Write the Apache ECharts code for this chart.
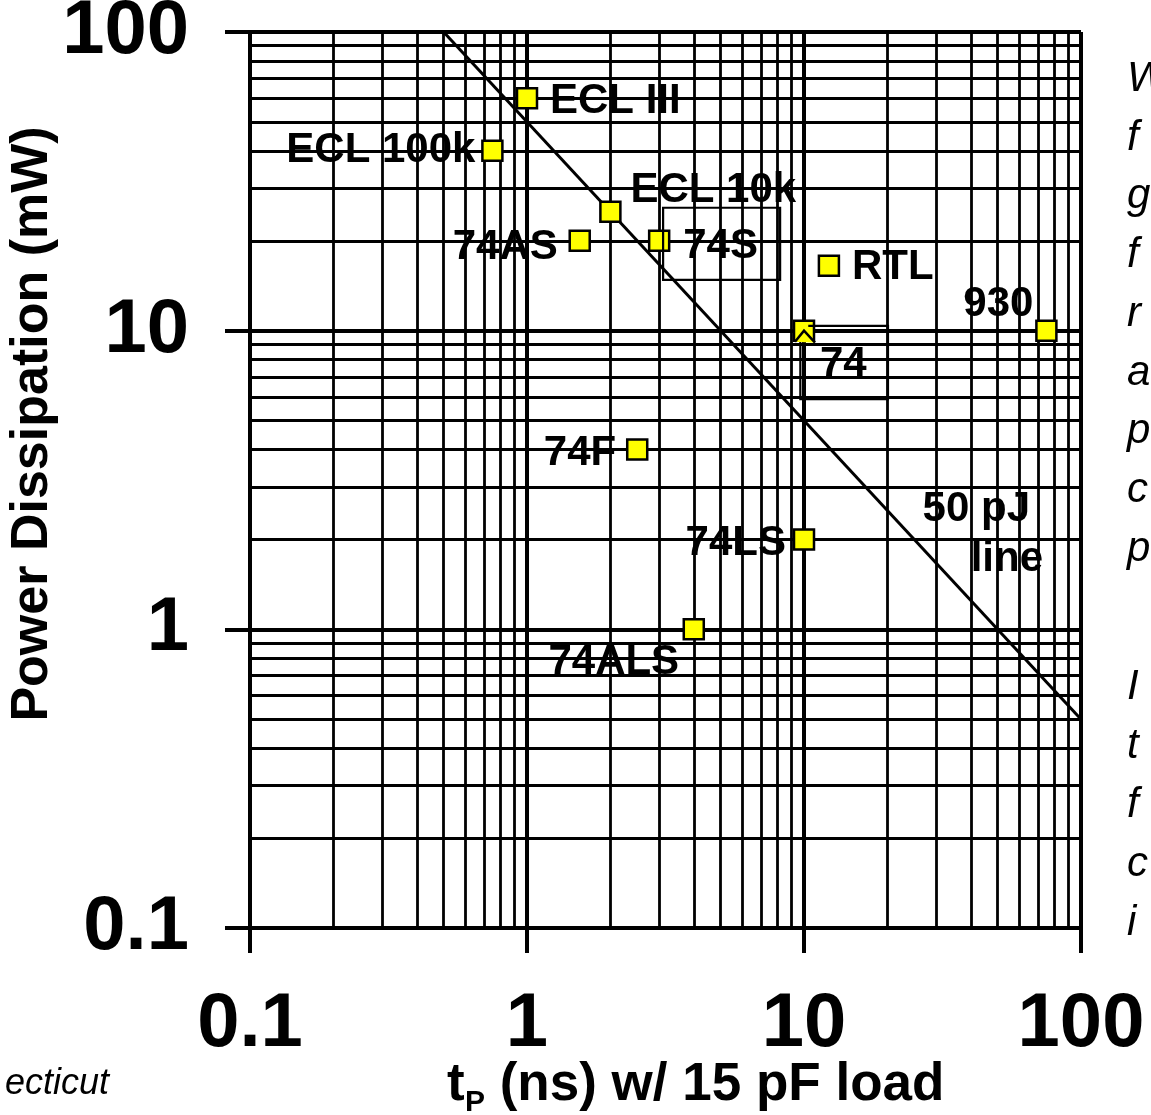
<!DOCTYPE html>
<html>
<head>
<meta charset="utf-8">
<script src="https://cdn.jsdelivr.net/npm/echarts@6/dist/echarts.min.js"></script>
<style>
html,body{margin:0;padding:0;background:#fff;}
#c{width:1151px;height:1115px;}
</style>
</head>
<body>
<div id="c"></div>
<script>
// ---- data ----
const families = ['ECL III', 'ECL 100k', 'ECL 10k', '74AS', '74S', 'RTL', '930', '74', '74F', '74LS', '74ALS'];
const delayNs  = [1, 0.75, 2, 1.55, 3, 12.3, 75, 10, 2.5, 10, 4];
const powerMw  = [60, 40, 25, 20, 20, 16.5, 10, 10, 4, 2, 1];
const pjLineDelay = [0.5, 100];
const pjLinePower = [100, 0.5];
const tickLabels = ['0.1', '1', '10', '100'];
const minorX = [0.2,0.3,0.4,0.5,0.6,0.7,0.8,0.9, 2,3,4,5,6,7,8,9, 20,30,40,50,60,70,80,90];
const minorY = [0.2,0.3,0.4,0.5,0.6,0.7,0.8,0.9, 2,3,4,5,6,7,8,9, 20,30,40,50,60,70,80,90];
// annotation boxes in data units
const box74S = {delay: [3.1, 8.2], power: [25.8, 14.8]};
const box74  = {delay: [9.7, 10.36, 20.1], power: [10.37, 5.9]};

// ---- styles ----
const FF = '"Liberation Sans", Arial, Helvetica, sans-serif';
const labelStyle = {
  'ECL III':  {align: 'left',   offset: [23, 3]},
  'ECL 100k': {align: 'right',  offset: [-17, 0]},
  'ECL 10k':  {align: 'left',   offset: [20, -21]},
  '74AS':     {align: 'right',  offset: [-22, 7]},
  '74S':      {align: 'left',   offset: [24, 6]},
  'RTL':      {align: 'left',   offset: [23, 2]},
  '930':      {align: 'right',  offset: [-13, -26]},
  '74':       {align: 'left',   offset: [16, 34]},
  '74F':      {align: 'right',  offset: [-21, 4]},
  '74LS':     {align: 'right',  offset: [-18, 4]},
  '74ALS':    {align: 'center', offset: [-80, 33]}
};

const tickFmt = v => tickLabels[Math.round(Math.log10(v)) + 1];

const axisCommon = {
  type: 'log', logBase: 10, min: 0.1, max: 100,
  axisLine: {show: true, onZero: false, lineStyle: {color: '#000', width: 4}},
  axisTick: {show: true, inside: false, length: 25, lineStyle: {color: '#000', width: 4}},
  splitLine: {show: true, lineStyle: {color: '#000', width: 4}},
  minorTick: {show: false},
  minorSplitLine: {show: false}
};

const chart = echarts.init(document.getElementById('c'), null, {renderer: 'canvas'});

const option = {
  animation: false,
  backgroundColor: '#fff',
  grid: {left: 250, right: 70, top: 32, bottom: 187, containLabel: false, outerBoundsMode: 'none'},
  xAxis: Object.assign({}, axisCommon, {
    axisLabel: {show: true, showMinLabel: true, showMaxLabel: true, formatter: tickFmt,
      fontSize: 76, fontWeight: 'bold', fontFamily: FF, color: '#000',
      margin: 97, verticalAlign: 'middle'}
  }),
  yAxis: Object.assign({}, axisCommon, {
    axisLabel: {show: true, showMinLabel: true, showMaxLabel: true, formatter: tickFmt,
      fontSize: 76, fontWeight: 'bold', fontFamily: FF, color: '#000',
      margin: 61, padding: [11, 0, 0, 0]}
  }),
  series: [
    {
      type: 'line',
      z: 3,
      data: pjLineDelay.map((d, i) => [d, pjLinePower[i]]),
      showSymbol: false,
      symbol: 'none',
      silent: true,
      lineStyle: {color: '#000', width: 3},
      markLine: {
        z: 1,
        silent: true,
        animation: false,
        symbol: ['none', 'none'],
        label: {show: false},
        emphasis: {disabled: true},
        lineStyle: {color: '#000', width: 2.8, type: 'solid'},
        data: minorX.map(v => ({xAxis: v})).concat(minorY.map(v => ({yAxis: v})))
      }
    },
    {
      type: 'scatter',
      z: 4,
      silent: true,
      symbol: 'rect',
      symbolSize: 20,
      itemStyle: {color: '#FFFF00', borderColor: '#000', borderWidth: 2.5, opacity: 1},
      label: {show: true, position: 'inside', formatter: p => p.name,
        fontSize: 42, fontWeight: 'bold', fontFamily: FF, color: '#000', verticalAlign: 'middle'},
      data: families.map((n, i) => ({
        name: n,
        value: [delayNs[i], powerMw[i]],
        label: labelStyle[n]
      }))
    }
  ]
};
chart.setOption(option);

// ---- annotations placed through the axes ----
const P = (x, y) => chart.convertToPixel({gridIndex: 0}, [x, y]);
const a1 = P(box74S.delay[0], box74S.power[0]);
const a2 = P(box74S.delay[1], box74S.power[1]);
const b1 = P(box74.delay[0], box74.power[0]);
const b2 = P(box74.delay[2], box74.power[1]);
const bStart = P(box74.delay[1], box74.power[0]);
const pt74 = P(10, 10);

const textBase = {fill: '#000', fontFamily: FF};

chart.setOption({
  graphic: [
    {type: 'rect', z: 10, silent: true,
      shape: {x: a1[0], y: a1[1], width: a2[0] - a1[0], height: a2[1] - a1[1]},
      style: {fill: 'none', stroke: '#000', lineWidth: 2.2}},
    {type: 'polyline', z: 10, silent: true,
      shape: {points: [[bStart[0], b1[1]], [b2[0], b1[1]], [b2[0], b2[1]], [b1[0], b2[1]], [b1[0], pt74[1] + 6]]},
      style: {fill: 'none', stroke: '#000', lineWidth: 2.2}},
    {type: 'polyline', z: 11, silent: true,
      shape: {points: [[pt74[0] - 9, pt74[1] + 11], [pt74[0], pt74[1]], [pt74[0] + 11, pt74[1] + 12]]},
      style: {fill: '#FFFF00', stroke: '#000', lineWidth: 2.5}},
    // 50 pJ line label
    {type: 'text', z: 12, silent: true, x: 1030, y: 509,
      style: Object.assign({text: '50 pJ', fontSize: 42, fontWeight: 'bold', align: 'right', verticalAlign: 'middle'}, textBase)},
    {type: 'text', z: 12, silent: true, x: 1043, y: 559,
      style: Object.assign({text: 'line', fontSize: 42, fontWeight: 'bold', align: 'right', verticalAlign: 'middle'}, textBase)},
    // axis titles
    {type: 'text', z: 12, silent: true, x: 33, y: 424, rotation: Math.PI / 2,
      style: Object.assign({text: 'Power Dissipation (mW)', fontSize: 52, fontWeight: 'bold', align: 'center', verticalAlign: 'middle'}, textBase)},
    {type: 'text', z: 12, silent: true, x: 447, y: 1085,
      style: Object.assign({text: 't', fontSize: 53, fontWeight: 'bold', align: 'left', verticalAlign: 'middle'}, textBase)},
    {type: 'text', z: 12, silent: true, x: 465, y: 1103,
      style: Object.assign({text: 'P', fontSize: 30, fontWeight: 'bold', align: 'left', verticalAlign: 'middle'}, textBase)},
    {type: 'text', z: 12, silent: true, x: 485, y: 1085,
      style: Object.assign({text: ' (ns) w/ 15 pF load', fontSize: 53, fontWeight: 'bold', align: 'left', verticalAlign: 'middle'}, textBase)},
    // clipped slide text
    {type: 'text', z: 12, silent: true, x: 1127, y: 50,
      style: Object.assign({text: 'W\nf\ng\nf\nr\na\np\nc\np', fontSize: 42, fontStyle: 'italic', lineHeight: 58.7, align: 'left', verticalAlign: 'top'}, textBase)},
    {type: 'text', z: 12, silent: true, x: 1127, y: 658,
      style: Object.assign({text: 'I\nt\nf\nc\ni', fontSize: 42, fontStyle: 'italic', lineHeight: 59, align: 'left', verticalAlign: 'top'}, textBase)},
    {type: 'text', z: 12, silent: true, x: 109, y: 1084,
      style: Object.assign({text: 'ecticut', fontSize: 36, fontStyle: 'italic', align: 'right', verticalAlign: 'middle'}, textBase)}
  ]
});
</script>
</body>
</html>
